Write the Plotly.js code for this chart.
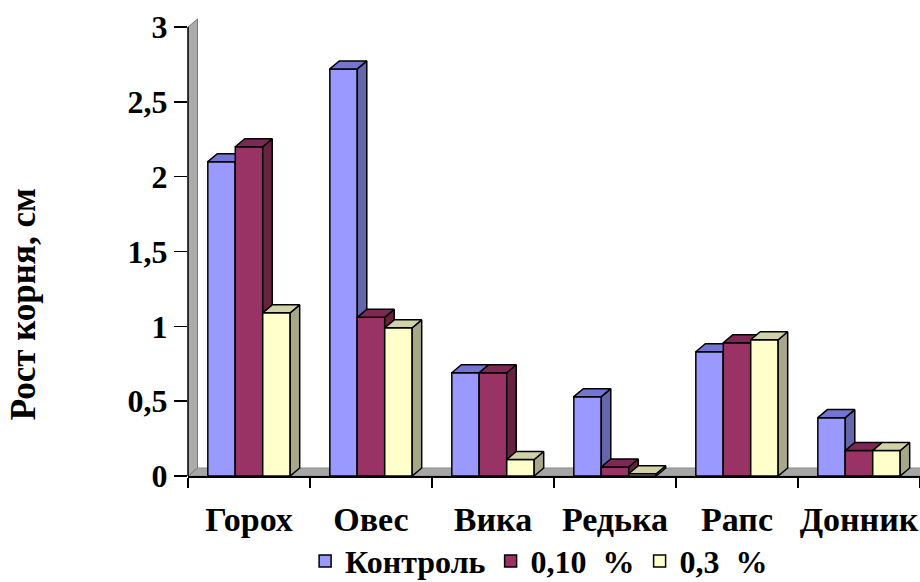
<!DOCTYPE html>
<html>
<head>
<meta charset="utf-8">
<script src="https://cdn.plot.ly/plotly-3.0.1.min.js"></script>
<style>
  html, body { margin: 0; padding: 0; background: #ffffff; }
  #chart { width: 920px; height: 582px; }
</style>
</head>
<body>
<div id="chart"></div>
<script>
// Root growth by crop and concentration
const categories = ['Горох', 'Овес', 'Вика', 'Редька', 'Рапс', 'Донник'];
const seriesNames = ['Контроль', '0,10\u00a0 %', '0,3\u00a0 %'];
const control = [2.1, 2.72, 0.69, 0.53, 0.83, 0.39];
const conc010 = [2.2, 1.06, 0.69, 0.06, 0.89, 0.17];
const conc03 = [1.09, 0.99, 0.11, 0.015, 0.91, 0.17];
const yTicks = [0, 0.5, 1, 1.5, 2, 2.5, 3];

const seriesValues = [control, conc010, conc03];
const frontColors = ['#9999FF', '#993366', '#FFFFCC'];
const topColors = ['#7474D2', '#7C2A55', '#D2D2A8'];
const sideColors = ['#6666AA', '#66223F', '#A8A888'];

// 3D look: bar width and depth offsets in axis units
const BAR_W = 0.225;
const DEPTH_X = 0.078;
const DEPTH_Y = 0.0535;
const X_RANGE = [-0.5, 5.5];
const Y_RANGE = [0, 3.06];

const traces = [];
const catIdx = categories.map((_, i) => i);
const yTop = yTicks[yTicks.length - 1];

// floor and left wall of the 3D box
traces.push({
  type: 'scatter', mode: 'lines', xaxis: 'x', yaxis: 'y',
  x: [X_RANGE[0], X_RANGE[1] + 0.2, X_RANGE[1] + 0.2 + DEPTH_X, X_RANGE[0] + DEPTH_X, X_RANGE[0]],
  y: [0, 0, DEPTH_Y, DEPTH_Y, 0],
  fill: 'toself', fillcolor: '#A6A6A6', line: { color: '#8C8C8C', width: 1 },
  hoverinfo: 'skip', showlegend: false
});
traces.push({
  type: 'scatter', mode: 'lines', xaxis: 'x', yaxis: 'y',
  x: [X_RANGE[0], X_RANGE[0], X_RANGE[0] + DEPTH_X, X_RANGE[0] + DEPTH_X, X_RANGE[0]],
  y: [0, yTop, yTop + DEPTH_Y, DEPTH_Y, 0],
  fill: 'toself', fillcolor: '#ABABAB', line: { color: '#777777', width: 1 },
  hoverinfo: 'skip', showlegend: false
});

// each series sits on its own overlaid axis so later series cover earlier ones
seriesValues.forEach((vals, s) => {
  const xa = 'x' + (s + 2);
  const centers = catIdx.map(i => i + (s - 1) * BAR_W);
  traces.push({
    type: 'bar', name: seriesNames[s], xaxis: xa, yaxis: 'y',
    x: centers, y: vals, width: BAR_W,
    marker: { color: frontColors[s], line: { color: '#000000', width: 1.5 } },
    hoverinfo: 'skip'
  });
  const tx = [], ty = [], sx = [], sy = [];
  centers.forEach((c, k) => {
    const v = vals[k];
    const l = c - BAR_W / 2, r = c + BAR_W / 2;
    tx.push(l, r, r + DEPTH_X, l + DEPTH_X, l, null);
    ty.push(v, v, v + DEPTH_Y, v + DEPTH_Y, v, null);
    sx.push(r, r + DEPTH_X, r + DEPTH_X, r, r, null);
    sy.push(v, v + DEPTH_Y, DEPTH_Y, 0, v, null);
  });
  traces.push({
    type: 'scatter', mode: 'lines', xaxis: xa, yaxis: 'y', x: sx, y: sy,
    fill: 'toself', fillcolor: sideColors[s], line: { color: '#000000', width: 1.5 },
    hoverinfo: 'skip', showlegend: false
  });
  traces.push({
    type: 'scatter', mode: 'lines', xaxis: xa, yaxis: 'y', x: tx, y: ty,
    fill: 'toself', fillcolor: topColors[s], line: { color: '#000000', width: 1.5 },
    hoverinfo: 'skip', showlegend: false
  });
});

const serif = 'Liberation Serif';
const boundaries = [];
for (let i = 0; i <= categories.length; i++) boundaries.push(i - 0.5);

const hiddenX = {
  overlaying: 'x', anchor: 'y', range: X_RANGE, visible: false, fixedrange: true
};

const layout = {
  width: 920, height: 582,
  margin: { l: 188, r: 0, t: 18, b: 106, autoexpand: false },
  paper_bgcolor: '#ffffff', plot_bgcolor: 'rgba(0,0,0,0)',
  separators: ', ',
  barmode: 'overlay',
  showlegend: true,
  font: { family: serif, color: '#000000' },
  xaxis: {
    range: X_RANGE, showgrid: false, zeroline: false,
    showline: true, linecolor: '#000000', linewidth: 1.5,
    tickvals: boundaries, ticktext: boundaries.map(() => ''),
    ticks: 'outside', ticklen: 10, tickwidth: 1.5, tickcolor: '#000000',
    fixedrange: true
  },
  xaxis2: {
    overlaying: 'x', anchor: 'y', range: X_RANGE,
    showgrid: false, zeroline: false, showline: false, ticks: '',
    tickvals: catIdx, ticktext: categories,
    ticklabelstandoff: 20,
    tickfont: { family: serif, size: 34, weight: 'bold', color: '#000000' },
    fixedrange: true
  },
  xaxis3: Object.assign({}, hiddenX),
  xaxis4: Object.assign({}, hiddenX),
  yaxis: {
    range: Y_RANGE, showgrid: false, zeroline: false, showline: false,
    tickvals: yTicks,
    ticks: 'outside', ticklen: 13, tickwidth: 1.5, tickcolor: '#000000',
    tickfont: { family: serif, size: 32, weight: 'bold', color: '#000000' },
    fixedrange: true
  },
  shapes: [{
    type: 'line', xref: 'paper', yref: 'y',
    x0: 0, x1: 0, y0: 0, y1: yTop,
    line: { color: '#000000', width: 1.5 }
  }],
  annotations: [{
    text: 'Рост корня, см', xref: 'paper', yref: 'paper',
    x: -0.225, y: 0.3755, xanchor: 'center', yanchor: 'middle',
    textangle: -90, showarrow: false,
    font: { family: serif, size: 35, weight: 'bold', color: '#000000' }
  }],
  legend: {
    orientation: 'h', x: 0.16, y: -0.186, xanchor: 'left', yanchor: 'middle',
    font: { family: serif, size: 32, weight: 'bold', color: '#000000' },
    bgcolor: 'rgba(0,0,0,0)', traceorder: 'normal', itemclick: false
  }
};

Plotly.newPlot('chart', traces, layout, { staticPlot: true, displayModeBar: false });
</script>
</body>
</html>
